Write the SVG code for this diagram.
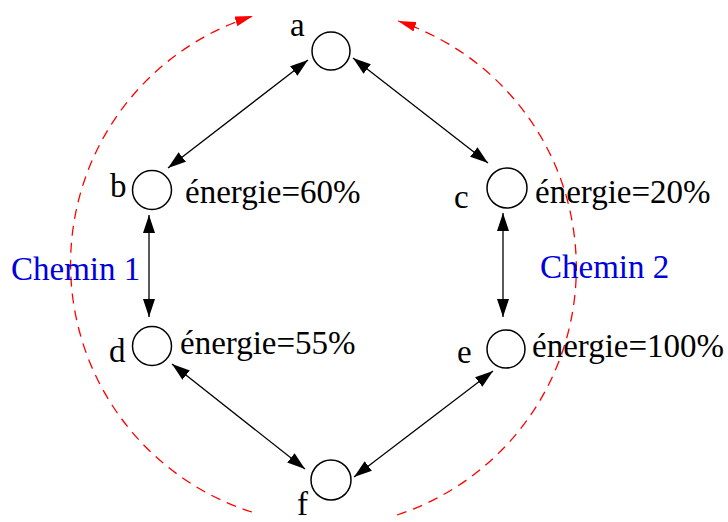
<svg xmlns="http://www.w3.org/2000/svg" width="728" height="522" viewBox="0 0 728 522">
<defs>
<marker id="ah" viewBox="0 0 18 12" markerWidth="18" markerHeight="12" refX="18" refY="6" markerUnits="userSpaceOnUse" orient="auto-start-reverse">
<path d="M0,0 L18,6 L0,12 z" fill="#000"/>
</marker>
<marker id="rah" viewBox="0 0 18 10" markerWidth="18" markerHeight="10" refX="18" refY="5" markerUnits="userSpaceOnUse" orient="auto">
<path d="M0,0 L18,5 L0,10 z" fill="#ff0000"/>
</marker>
</defs>
<style>
.node{fill:#fff;stroke:#000;stroke-width:1.5}
.t{font-family:"Liberation Serif","Times New Roman",serif;font-size:33px;fill:#000}
.blue{fill:#0000dd}
.edge{stroke:#000;stroke-width:1.3;fill:none;marker-start:url(#ah);marker-end:url(#ah)}
.path{stroke:#ff0000;stroke-width:1.3;fill:none;stroke-dasharray:10 7;marker-end:url(#rah)}
</style>
<g id="paths">
<path class="path" d="M252,512 A260,260 0 0 1 253,16"/>
<path class="path" d="M397,515 A260,260 0 0 0 398,21"/>
</g>
<g id="connectors">
<line class="edge" x1="168" y1="168" x2="308" y2="60"/>
<line class="edge" x1="353" y1="58" x2="488" y2="163"/>
<line class="edge" x1="149" y1="215" x2="149" y2="317"/>
<line class="edge" x1="503" y1="213" x2="503" y2="317"/>
<line class="edge" x1="172" y1="364" x2="305" y2="469"/>
<line class="edge" x1="493" y1="371" x2="354" y2="477"/>
</g>
<g id="node-a">
<circle class="node" cx="331" cy="51" r="19"/>
<text class="t" x="290" y="36">a</text>
</g>
<g id="node-b">
<circle class="node" cx="152" cy="190" r="19.5"/>
<text class="t" x="110" y="197">b</text>
<text class="t" x="185" y="203">énergie=60%</text>
</g>
<g id="node-c">
<circle class="node" cx="507" cy="188" r="20"/>
<text class="t" x="454" y="208">c</text>
<text class="t" x="535" y="203">énergie=20%</text>
</g>
<g id="node-d">
<circle class="node" cx="152" cy="346" r="19.5"/>
<text class="t" x="109" y="362">d</text>
<text class="t" x="180" y="354">énergie=55%</text>
</g>
<g id="node-e">
<circle class="node" cx="506" cy="349" r="19"/>
<text class="t" x="457" y="363">e</text>
<text class="t" x="532" y="357">énergie=100%</text>
</g>
<g id="node-f">
<circle class="node" cx="331" cy="480" r="20"/>
<text class="t" x="297" y="515">f</text>
</g>
<g id="labels">
<text class="t blue" x="11" y="280">Chemin 1</text>
<text class="t blue" x="540" y="278">Chemin 2</text>
</g>
</svg>
